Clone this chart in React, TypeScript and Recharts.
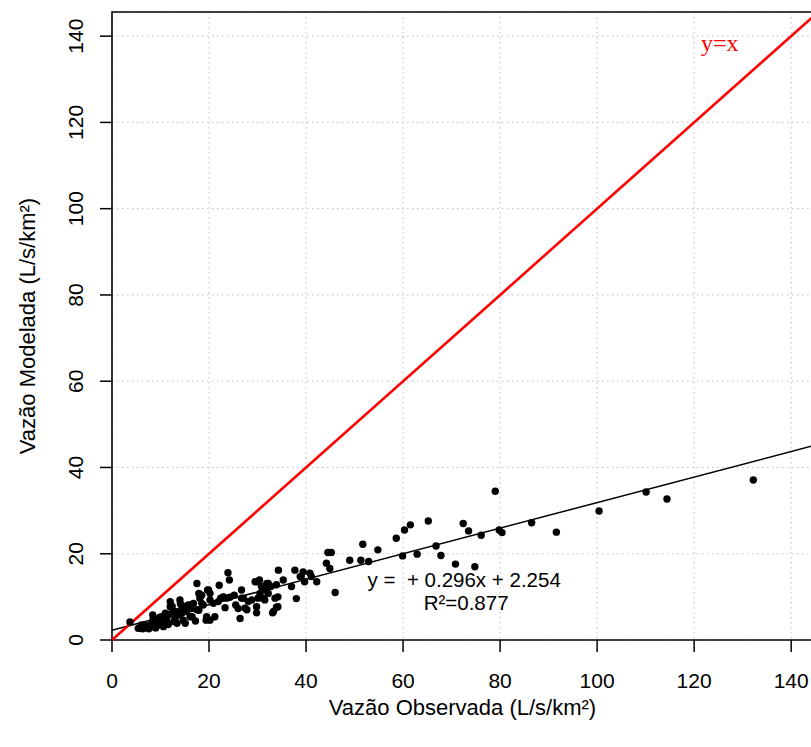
import React from 'react';
import {
  ScatterChart,
  Scatter,
  XAxis,
  YAxis,
  CartesianGrid,
  ReferenceLine,
  ReferenceArea,
  ReferenceDot,
} from 'recharts';

// Observed vs modelled specific discharge (L/s/km²)
const observedFlow = [
  3.7, 5.4, 5.9, 6.3, 6.8, 7.3, 7.6, 6.1, 8.2, 8.4, 8.5, 8.9, 9.3, 9.5, 9.8, 10.2,
  10.3, 10.6, 11.0, 11.3, 11.6, 11.8, 12.0, 12.0, 12.4, 12.6, 13.0, 13.1, 13.4, 13.7,
  14.0, 14.1, 14.4, 14.4, 14.7, 15.1, 15.1, 15.4, 15.7, 16.1, 16.2, 16.4, 16.5, 16.8,
  17.2, 17.5, 17.5, 17.9, 17.9, 18.1, 18.5, 18.5, 18.8, 19.4, 19.5, 19.7, 19.9, 20.2,
  20.2, 20.2, 20.9, 21.2, 21.9, 22.1, 22.4, 22.9, 23.0, 23.3, 23.6, 23.9, 24.2, 24.3,
  25.2, 25.5, 26.0, 26.4, 26.7, 26.7, 27.1, 27.4, 27.8, 28.1, 28.8, 29.5, 29.8, 29.8,
  29.8, 30.1, 30.4, 30.5, 30.8, 31.1, 31.5, 31.6, 31.9, 32.2, 32.2, 32.7, 33.1, 33.3,
  33.6, 33.9, 33.9, 34.3, 34.2, 34.2, 35.3, 37.0, 37.7, 38.0, 38.8, 39.0, 39.4, 39.7,
  40.8, 41.1, 42.2, 44.5, 45.2, 44.2, 44.9, 46.0, 49.0, 51.3, 51.7, 52.9, 54.8, 58.6,
  59.9, 60.3, 61.5, 62.9, 65.2, 66.8, 67.8, 70.8, 72.4, 73.5, 74.8, 76.1, 79.0, 79.8,
  80.4, 86.5, 91.6, 100.4, 110.1, 114.4, 132.2, 7.0, 9.0, 10.8, 12.8, 5.9, 8.0, 11.5,
];

const modeledFlow = [
  4.2, 2.7, 3.0, 2.6, 2.8, 2.9, 2.6, 3.5, 3.1, 5.8, 4.9, 4.6, 3.3, 3.9, 5.2, 5.4,
  4.4, 3.1, 6.2, 4.6, 3.6, 5.9, 7.7, 8.9, 7.8, 6.6, 5.0, 6.6, 3.9, 5.8,
  9.3, 8.4, 7.3, 6.2, 4.6, 3.9, 7.8, 6.6, 8.1, 5.4, 8.1, 7.3, 5.4, 8.5,
  4.4, 7.0, 13.1, 10.8, 6.9, 9.7, 10.4, 8.5, 8.1, 4.6, 5.4, 11.6, 11.6, 10.8,
  9.3, 4.6, 8.5, 5.4, 8.9, 12.7, 9.7, 9.9, 10.0, 7.5, 9.7, 15.6, 13.9, 9.9,
  10.4, 8.1, 7.3, 5.0, 11.6, 9.7, 9.7, 7.4, 7.0, 8.9, 9.3, 13.5, 13.5, 7.7,
  6.3, 9.7, 13.9, 10.8, 12.4, 9.7, 9.3, 11.6, 13.1, 10.8, 13.1, 12.4, 6.3, 6.6,
  9.7, 12.8, 7.6, 16.2, 10.0, 7.7, 13.9, 12.4, 16.2, 9.6, 14.7, 14.7, 15.8, 13.5,
  15.5, 14.7, 13.5, 20.3, 20.3, 17.8, 16.6, 11.0, 18.5, 18.5, 22.2, 18.2, 20.9, 23.6,
  19.5, 25.5, 26.7, 19.9, 27.6, 21.8, 19.6, 17.6, 27.0, 25.3, 17.0, 24.3, 34.5, 25.5,
  24.9, 27.2, 25.0, 29.9, 34.3, 32.7, 37.1, 3.3, 2.8, 4.0, 4.3, 2.7, 3.6, 3.8,
];

// Fitted regression and its statistics
const slope = 0.296;
const intercept = 2.254;
const fitLabel = 'y =  + 0.296x + 2.254';
const r2Label = 'R²=0.877';
const identityLabel = 'y=x';

const xTicks = [0, 20, 40, 60, 80, 100, 120, 140];
const yTicks = [0, 20, 40, 60, 80, 100, 120, 140];

const X_MAX = 144.5;
const Y_MAX = 145.6;

const points = observedFlow.map((x, i) => ({ x, y: modeledFlow[i] }));

const SANS = '"Liberation Sans", Arial, Helvetica, sans-serif';
const SERIF = '"Liberation Serif", "Times New Roman", serif';
const TICK_FONT = 21;
const TITLE_FONT = 22;

const XTick = (props: any) => {
  const { x, y, payload } = props;
  return (
    <text x={x} y={y} dy="0.71em" textAnchor="middle" fontSize={TICK_FONT} fontFamily={SANS} fill="#000">
      {payload.value}
    </text>
  );
};

const YTick = (props: any) => {
  const { x, y, payload } = props;
  return (
    <text
      x={x}
      y={y}
      transform={`rotate(-90 ${x} ${y})`}
      textAnchor="middle"
      fontSize={TICK_FONT}
      fontFamily={SANS}
      fill="#000"
    >
      {payload.value}
    </text>
  );
};

const XTitle = (props: any) => {
  const vb = props.viewBox || {};
  const cx = vb.x + vb.width / 2;
  return (
    <text x={cx} y={715} textAnchor="middle" fontSize={TITLE_FONT} fontFamily={SANS} fill="#000">
      Vazão Observada (L/s/km²)
    </text>
  );
};

const YTitle = (props: any) => {
  const vb = props.viewBox || {};
  const cy = vb.y + vb.height / 2;
  const x = 35;
  return (
    <text
      x={x}
      y={cy}
      transform={`rotate(-90 ${x} ${cy})`}
      textAnchor="middle"
      fontSize={TITLE_FONT}
      fontFamily={SANS}
      fill="#000"
    >
      Vazão Modelada (L/s/km²)
    </text>
  );
};

const makeNote = (text: string, color: string, family: string, size: number) => (props: any) => {
  const vb = props.viewBox || {};
  const cx = vb.cx !== undefined ? vb.cx : vb.x + (vb.width || 0) / 2;
  const cy = vb.cy !== undefined ? vb.cy : vb.y + (vb.height || 0) / 2;
  return (
    <text
      x={cx}
      y={cy}
      dy="0.35em"
      textAnchor="middle"
      fontSize={size}
      fontFamily={family}
      fill={color}
      style={{ whiteSpace: 'pre' }}
    >
      {text}
    </text>
  );
};

const Dot = (props: any) => <circle cx={props.cx} cy={props.cy} r={3.7} fill="#000" />;

export default function App() {
  return (
    <div style={{ position: 'absolute', left: 0, top: 0, width: 811, height: 747, background: '#fff' }}>
      <ScatterChart width={811} height={747} margin={{ top: 12, right: -2, bottom: 0, left: 0 }}>
        <CartesianGrid stroke="#c8c8c8" strokeDasharray="1.5 3.5" strokeWidth={1.2} />
        <XAxis
          type="number"
          dataKey="x"
          domain={[0, X_MAX]}
          ticks={xTicks}
          allowDataOverflow
          height={107}
          axisLine={false}
          tickSize={12}
          tickMargin={21}
          tickLine={{ stroke: '#000', strokeWidth: 1.5 }}
          tick={<XTick />}
          label={<XTitle />}
        />
        <YAxis
          type="number"
          dataKey="y"
          domain={[0, Y_MAX]}
          ticks={yTicks}
          allowDataOverflow
          width={112}
          axisLine={false}
          tickSize={12}
          tickMargin={17}
          tickLine={{ stroke: '#000', strokeWidth: 1.5 }}
          tick={<YTick />}
          label={<YTitle />}
        />
        <Scatter data={points} fill="#000" shape={<Dot />} isAnimationActive={false} />
        <ReferenceLine
          segment={[
            { x: 0, y: intercept },
            { x: X_MAX, y: intercept + slope * X_MAX },
          ]}
          stroke="#000"
          strokeWidth={1.5}
        />
        <ReferenceLine
          segment={[
            { x: 0, y: 0 },
            { x: X_MAX, y: X_MAX },
          ]}
          stroke="#ff0000"
          strokeWidth={2.6}
        />
        <ReferenceArea
          x1={0}
          x2={X_MAX}
          y1={0}
          y2={Y_MAX}
          fill="none"
          fillOpacity={0}
          stroke="#000"
          strokeWidth={1.6}
        />
        <ReferenceDot x={72.6} y={13.9} r={0} fill="none" stroke="none" label={makeNote(fitLabel, '#000', SANS, 20.5)} />
        <ReferenceDot x={73.0} y={8.6} r={0} fill="none" stroke="none" label={makeNote(r2Label, '#000', SANS, 20.5)} />
        <ReferenceDot x={125.3} y={138.4} r={0} fill="none" stroke="none" label={makeNote(identityLabel, '#ff0000', SERIF, 24)} />
      </ScatterChart>
    </div>
  );
}
